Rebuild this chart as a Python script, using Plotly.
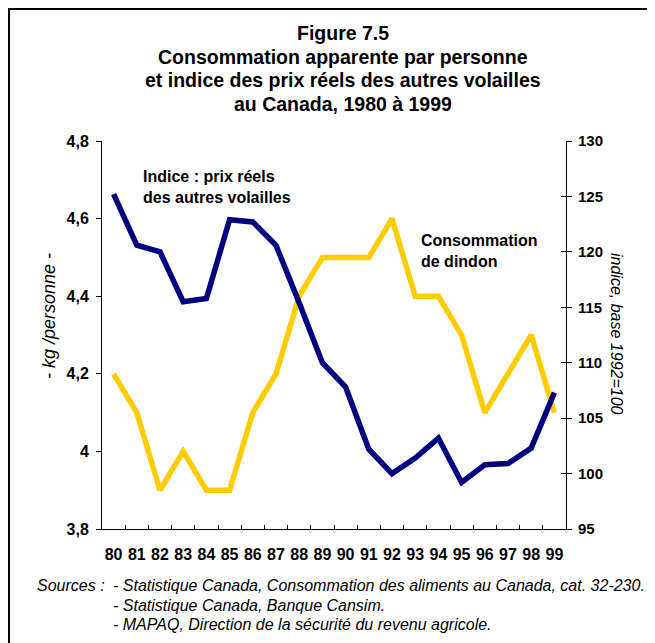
import plotly.graph_objects as go

years = ["80", "81", "82", "83", "84", "85", "86", "87", "88", "89",
         "90", "91", "92", "93", "94", "95", "96", "97", "98", "99"]
consommation_dindon = [4.2, 4.1, 3.9, 4.0, 3.9, 3.9, 4.1, 4.2, 4.4, 4.5,
                       4.5, 4.5, 4.6, 4.4, 4.4, 4.3, 4.1, 4.2, 4.3, 4.1]
indice_prix = [125.2, 120.6, 120.0, 115.5, 115.8, 122.9, 122.7, 120.6, 115.4, 110.0,
               107.8, 102.2, 100.0, 101.4, 103.2, 99.2, 100.8, 100.9, 102.3, 107.3]
left_ticks = [3.8, 4.0, 4.2, 4.4, 4.6, 4.8]
left_ticktext = ["3,8", "4", "4,2", "4,4", "4,6", "4,8"]
right_ticks = [95, 100, 105, 110, 115, 120, 125, 130]

title_lines = ["Figure 7.5",
               "Consommation apparente par personne",
               "et indice des prix réels des autres volailles",
               "au Canada, 1980 à 1999"]
label_indice = ["Indice : prix réels", "des autres volailles"]
label_conso = ["Consommation", "de dindon"]
sources_lines = ["- Statistique Canada, Consommation des aliments au Canada, cat. 32-230.",
                 "- Statistique Canada, Banque Cansim.",
                 "- MAPAQ, Direction de la sécurité du revenu agricole."]

# page body adds an 8px offset; work in screen coordinates
OFF = 8
W, H = 655 - OFF, 643 - OFF
PL, PR, PT, PB = 102, 566, 141, 529  # plot area in screen px
L, T = PL - OFF, PT - OFF
R = W - L - (PR - PL)
B = H - T - (PB - PT)
pw, ph = PR - PL, PB - PT

def px(x):
    return (x - PL) / pw

def py(y):
    return (PB - y) / ph

FONT = "Liberation Sans, Arial, sans-serif"

fig = go.Figure()
fig.add_trace(go.Scatter(x=years, y=consommation_dindon, mode="lines",
                         line=dict(color="#FFCC00", width=5.5), yaxis="y",
                         showlegend=False, hoverinfo="skip"))
fig.add_trace(go.Scatter(x=years, y=indice_prix, mode="lines",
                         line=dict(color="#000080", width=5.5), yaxis="y2",
                         showlegend=False, hoverinfo="skip"))
# invisible helper trace so the inner right tick axis is drawn
fig.add_trace(go.Scatter(x=years, y=indice_prix, mode="lines",
                         line=dict(color="rgba(0,0,0,0)", width=0), yaxis="y3",
                         showlegend=False, hoverinfo="skip"))

fig.update_layout(
    width=W, height=H,
    margin=dict(l=L, r=R, t=T, b=B, pad=0),
    paper_bgcolor="white", plot_bgcolor="white",
    font=dict(family=FONT, color="black"),
    showlegend=False,
    xaxis=dict(type="category", range=[-0.5, 19.5], tickson="boundaries",
               ticks="inside", ticklen=4, tickcolor="black", showline=True,
               linecolor="black", linewidth=1, showgrid=False, zeroline=False,
               tickangle=0,
               tickfont=dict(size=16, family=FONT, weight="bold"),
               ticklabelstandoff=11),
    xaxis2=dict(overlaying="x", side="top", showline=True, linecolor="#a0a0a0",
                linewidth=1, showticklabels=False, ticks="", showgrid=False,
                zeroline=False, range=[-0.5, 19.5], type="category", matches="x"),
    yaxis=dict(range=[3.8, 4.8], tickvals=left_ticks, ticktext=left_ticktext,
               ticks="outside", ticklen=5, tickcolor="black", showline=True,
               linecolor="black", linewidth=1, showgrid=False, zeroline=False,
               tickfont=dict(size=16, family=FONT, weight="bold"),
               ticklabelstandoff=4),
    yaxis2=dict(range=[95, 130], tickvals=right_ticks, overlaying="y", side="right",
                ticks="outside", ticklen=5, tickcolor="black", showline=True,
                linecolor="black", linewidth=1, showgrid=False, zeroline=False,
                tickfont=dict(size=15, family=FONT, weight="bold"),
                ticklabelstandoff=3),
    yaxis3=dict(range=[95, 130], tickvals=right_ticks, overlaying="y", side="right",
                anchor="x", ticks="inside", ticklen=5, tickcolor="black",
                showticklabels=False, showline=False, showgrid=False, zeroline=False),
)

annotations = []

def add_text(text, x, y, size, xanchor="left", bold=False, italic=False, angle=0):
    t = text
    if bold:
        t = "<b>" + t + "</b>"
    if italic:
        t = "<i>" + t + "</i>"
    annotations.append(dict(text=t, x=px(x), y=py(y), xref="paper", yref="paper",
                            xanchor=xanchor, yanchor="middle", showarrow=False,
                            textangle=angle, font=dict(size=size, family=FONT)))

for line, yc in zip(title_lines, [33, 57, 80, 104]):
    add_text(line, 343, yc, 19.5, xanchor="center", bold=True)
for line, yc in zip(label_indice, [176, 197]):
    add_text(line, 141, yc, 16, bold=True)
for line, yc in zip(label_conso, [240, 261]):
    add_text(line, 419, yc, 16, bold=True)
add_text("- kg /personne -", 49, 316, 18, xanchor="center", italic=True, angle=-90)
add_text("indice, base 1992=100", 617, 334, 16, xanchor="center", italic=True, angle=90)
add_text("Sources :", 35, 585, 16, italic=True)
for line, yc in zip(sources_lines, [585, 605, 624]):
    add_text(line, 111, yc, 16, italic=True)

fig.update_layout(annotations=annotations)

fig.add_shape(type="rect", xref="paper", yref="paper",
              x0=px(9), y0=py(680), x1=px(680), y1=py(9),
              line=dict(color="black", width=2), fillcolor="rgba(0,0,0,0)", layer="above")

fig.write_html("out.html")
